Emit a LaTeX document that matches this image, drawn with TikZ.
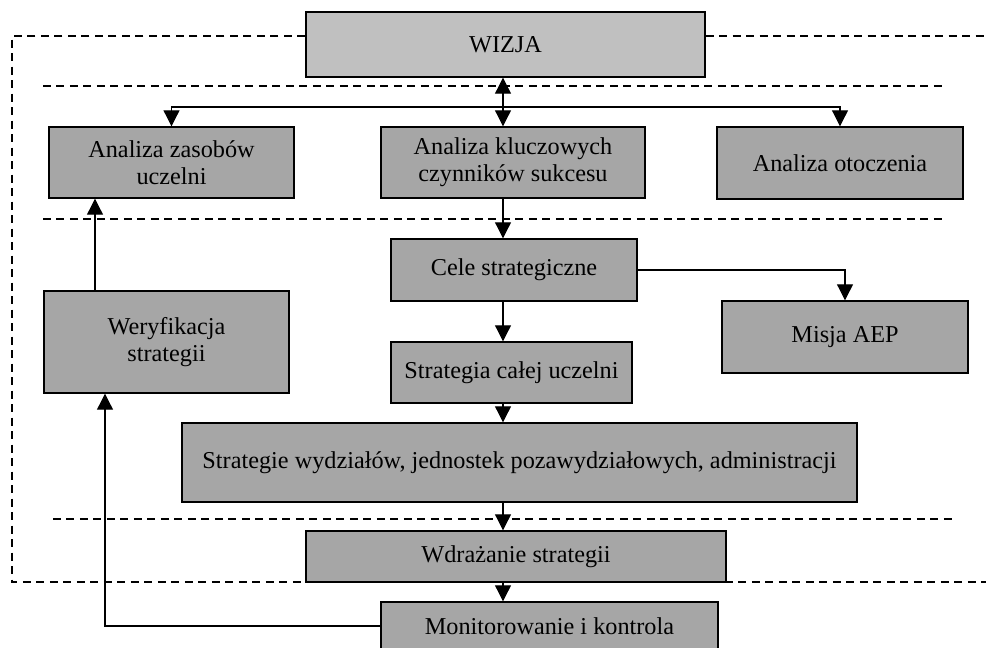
\documentclass[tikz,border=0pt]{standalone}
\usepackage{fontspec}
\setmainfont{Liberation Serif}
\usetikzlibrary{positioning,arrows.meta,calc}

\definecolor{boxgray}{HTML}{A6A6A6}
\definecolor{topgray}{HTML}{C0C0C0}

\begin{document}
\begin{tikzpicture}[x=0.02cm,y=-0.02cm,
box/.style={draw,line width=0.8pt,fill=boxgray,align=center,inner sep=2pt,font=\fontsize{13.8}{15.6}\selectfont},
arr/.style={-{Triangle[length=3.2mm,width=3.2mm]},line width=0.6pt},
dashline/.style={line width=0.6pt,dash pattern=on 1.6mm off 1.1mm}]
\useasboundingbox (0,0) rectangle (986,648);
\coordinate (axis) at (503,0);
\coordinate (upx) at (95,0);
\coordinate (fbx) at (105,0);
\node[box,fill=topgray,minimum width=7.98cm,minimum height=1.30cm] (wizja) at (505.5,44.5) {WIZJA};
\node[box,minimum width=4.90cm,minimum height=1.42cm] (zasoby) at (171.5,162.5) {Analiza zasobów\\uczelni};
\node[box,minimum width=5.28cm,minimum height=1.42cm] (kcs) at (513,162.5) {Analiza kluczowych\\czynników sukcesu};
\node[box,minimum width=4.92cm,minimum height=1.44cm] (otocz) at (840,163) {Analiza otoczenia};
\node[box,minimum width=4.92cm,minimum height=1.24cm] (cele) at (514,270) {Cele strategiczne};
\node[box,minimum width=4.92cm,minimum height=1.44cm] (misja) at (845,337) {Misja AEP};
\node[box,minimum width=4.90cm,minimum height=2.04cm] (weryf) at (166.5,342) {Weryfikacja\\strategii};
\node[box,minimum width=4.82cm,minimum height=1.22cm] (calej) at (511.5,372.5) {Strategia całej uczelni};
\node[box,minimum width=13.50cm,minimum height=1.58cm] (wydz) at (519.5,462.5) {Strategie wydziałów, jednostek pozawydziałowych, administracji};
\node[box,minimum width=8.40cm,minimum height=1.02cm] (wdraz) at (516,556.5) {Wdrażanie strategii};
\node[box,minimum width=6.74cm,minimum height=0.96cm] (monit) at (549.5,626) {Monitorowanie i kontrola};
% dashed levels
\draw[dashline] (wizja.west |- 0,36) -- (12,36) -- (12,582) -- (986,582);
\draw[dashline] (wizja.east |- 0,36) -- (986,36);
\draw[dashline] (43,86) -- (947,86);
\draw[dashline] (43,219) -- (947,219);
\draw[dashline] (53,519) -- (957,519);
% arrows
\coordinate (split) at (503,107);
\draw[arr,{Triangle[length=3.2mm,width=3.2mm]}-{Triangle[length=3.2mm,width=3.2mm]}] (wizja.south -| axis) -- (kcs.north -| axis);
\draw[arr] (split) -| (zasoby.north);
\draw[arr] (split) -| (otocz.north);
\draw[arr] (kcs.south -| axis) -- (cele.north -| axis);
\draw[arr] (cele.east) -| (misja.north);
\draw[arr] (cele.south -| axis) -- (calej.north -| axis);
\draw[arr] (calej.south -| axis) -- (wydz.north -| axis);
\draw[arr] (wydz.south -| axis) -- (wdraz.north -| axis);
\draw[arr] (wdraz.south -| axis) -- (monit.north -| axis);
\draw[arr] (weryf.north -| upx) -- (zasoby.south -| upx);
\draw[arr] (monit.west) -| (weryf.south -| fbx);
\end{tikzpicture}
\end{document}
